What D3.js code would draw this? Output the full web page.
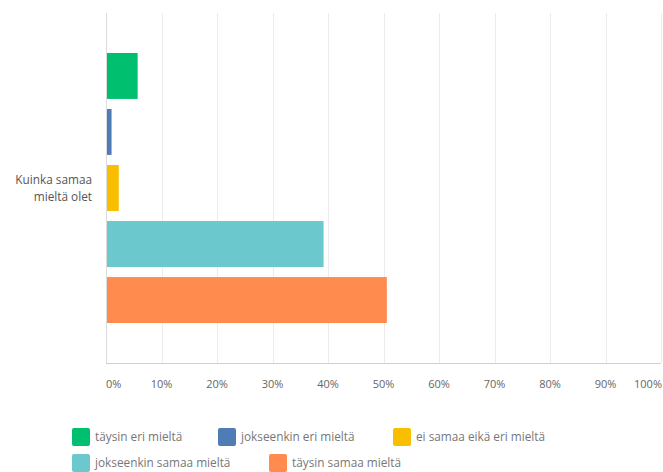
<!DOCTYPE html>
<html>
<head>
<meta charset="utf-8">
<script src="https://cdn.jsdelivr.net/npm/d3@7"></script>
<style>
  html, body { margin: 0; padding: 0; background: #fff; }
  svg { display: block; font-family: "Open Sans", "DejaVu Sans", sans-serif; }
</style>
</head>
<body>
<svg id="chart" width="663" height="472"></svg>
<script>
const categories = ["Kuinka samaa mieltä olet"];
const seriesNames = ["täysin eri mieltä", "jokseenkin eri mieltä", "ei samaa eikä eri mieltä", "jokseenkin samaa mieltä", "täysin samaa mieltä"];
const seriesValues = [5.7, 1.0, 2.3, 39.2, 50.6];
const seriesColors = ["#00bf6f", "#507cb6", "#f9be00", "#6bc8cd", "#ff8b4f"];
const tickValues = [0, 10, 20, 30, 40, 50, 60, 70, 80, 90, 100];
const tickLabels = ["0%", "10%", "20%", "30%", "40%", "50%", "60%", "70%", "80%", "90%", "100%"];

const svg = d3.select("#chart");
const plot = { left: 106, right: 661, top: 13, bottom: 363 };

const x = d3.scaleLinear().domain([0, 100]).range([plot.left, plot.right]);
const y0 = d3.scaleBand().domain(categories).range([plot.top, plot.bottom]).padding(0.129);
const y1 = d3.scaleBand().domain(seriesNames).range([0, y0.bandwidth()]).paddingInner(0.18);

// gridlines
svg.append("g").selectAll("line").data(tickValues.slice(1)).join("line")
  .attr("x1", d => Math.round(x(d)) + 0.5).attr("x2", d => Math.round(x(d)) + 0.5)
  .attr("y1", plot.top).attr("y2", plot.bottom)
  .attr("stroke", "#ececec").attr("stroke-width", 1);

// bars
const g = svg.append("g");
categories.forEach(cat => {
  g.selectAll("rect.bar").data(seriesNames.map((s, i) => ({ s, v: seriesValues[i], c: seriesColors[i] })))
    .join("rect").attr("class", "bar")
    .attr("x", x(0))
    .attr("y", d => y0(cat) + y1(d.s))
    .attr("width", d => x(d.v) - x(0))
    .attr("height", y1.bandwidth())
    .attr("fill", d => d.c);
});

// axes lines
svg.append("line").attr("x1", plot.left + 0.5).attr("x2", plot.left + 0.5)
  .attr("y1", plot.top).attr("y2", plot.bottom + 0.5).attr("stroke", "#dcdcdc");
svg.append("line").attr("x1", plot.left).attr("x2", plot.right)
  .attr("y1", plot.bottom + 0.5).attr("y2", plot.bottom + 0.5).attr("stroke", "#d0d0d0");

// x tick labels
svg.append("g").selectAll("text").data(tickValues).join("text")
  .attr("x", (d, i) => i === 0 ? x(d) : (i === tickValues.length - 1 ? 662 : x(d)))
  .attr("y", 384)
  .attr("dy", "0.35em")
  .attr("text-anchor", (d, i) => i === 0 ? "start" : (i === tickValues.length - 1 ? "end" : "middle"))
  .attr("font-size", 11)
  .attr("fill", "#666")
  .text((d, i) => tickLabels[i]);

// category label (wrapped)
const catLines = ["Kuinka samaa", "mieltä olet"];
const catText = svg.append("text")
  .attr("text-anchor", "end").attr("font-size", 11.8).attr("fill", "#555");
catLines.forEach((ln, i) => {
  catText.append("tspan").attr("x", 92)
    .attr("y", y0(categories[0]) + y0.bandwidth() / 2 - 8 + i * 16.5)
    .attr("dy", "0.35em").text(ln);
});

// legend
const legend = svg.append("g");
const legendSlots = [[72, 437], [218, 437], [393, 437], [72, 463], [269, 463]];
seriesNames.forEach((name, i) => {
  const [lx, ly] = legendSlots[i];
  legend.append("rect").attr("x", lx).attr("y", ly - 9).attr("width", 18).attr("height", 18)
    .attr("rx", 2).attr("fill", seriesColors[i]);
  legend.append("text").attr("x", lx + 23).attr("y", ly).attr("dy", "0.35em")
    .attr("font-size", 11.8).attr("fill", "#777").text(name);
});
</script>
</body>
</html>
